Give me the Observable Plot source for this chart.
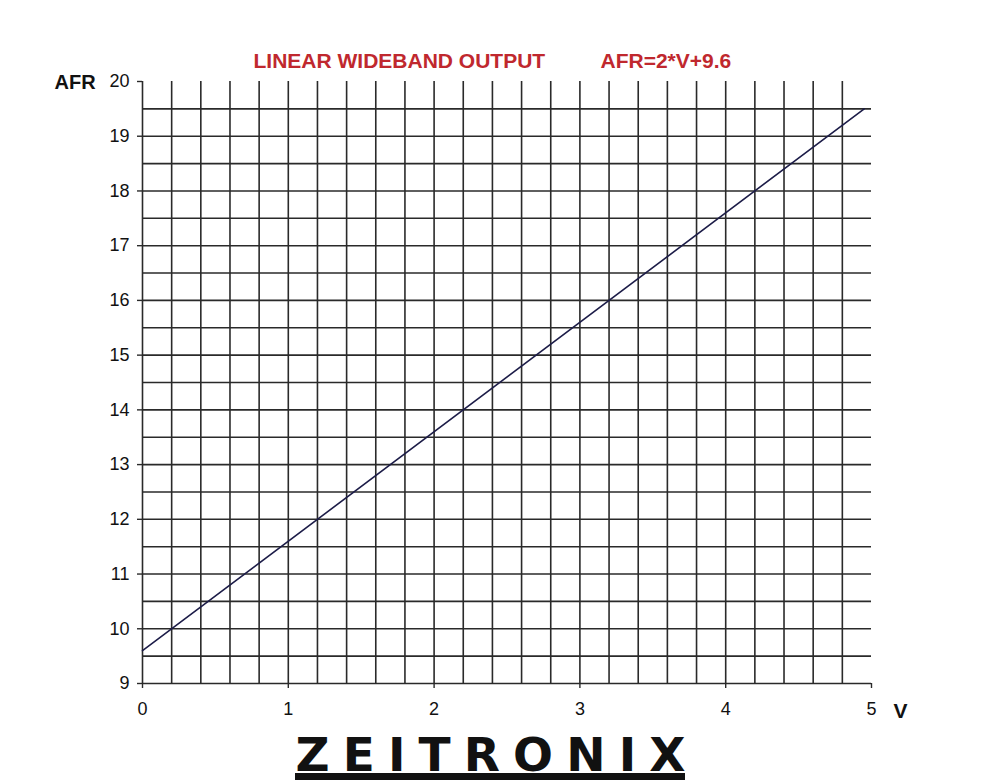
<!DOCTYPE html>
<html><head><meta charset="utf-8">
<script src="https://cdn.jsdelivr.net/npm/d3@7"></script>
<script src="https://cdn.jsdelivr.net/npm/@observablehq/plot@0.6"></script>
<style>body{margin:0;background:#fff} svg{display:block}</style>
</head><body><div id="chart"></div>
<script>
// Data
const voltage = [0, 4.95];
const afr = [9.6, 19.5];
const xTicks = [0, 1, 2, 3, 4, 5];
const yTicks = [9, 10, 11, 12, 13, 14, 15, 16, 17, 18, 19, 20];
const xGrid = [0.2, 0.4, 0.6, 0.8, 1.0, 1.2, 1.4, 1.6, 1.8, 2.0, 2.2, 2.4, 2.6, 2.8, 3.0, 3.2, 3.4, 3.6, 3.8, 4.0, 4.2, 4.4, 4.6, 4.8];
const yGrid = [9.5, 10, 10.5, 11, 11.5, 12, 12.5, 13, 13.5, 14, 14.5, 15, 15.5, 16, 16.5, 17, 17.5, 18, 18.5, 19, 19.5];
const titleText = "LINEAR WIDEBAND OUTPUT";
const formulaText = "AFR=2*V+9.6";
const yLabel = "AFR";
const xLabel = "V";
const logoText = "ZEITRONIX";

const lineData = voltage.map((v, i) => ({v, afr: afr[i]}));
const font = "'Liberation Sans', Arial, sans-serif";
const gridColor = "#2a2a2a";
const red = "#c0282e";

const chart = Plot.plot({
  width: 985,
  height: 781,
  marginLeft: 142,
  marginRight: 114,
  marginTop: 81,
  marginBottom: 98,
  style: {fontFamily: font, background: "#fff", overflow: "visible"},
  x: {domain: [0, 5]},
  y: {domain: [9, 20]},
  marks: [
    Plot.ruleX(xGrid, {y1: 9, y2: 20, stroke: gridColor, strokeWidth: 1.6}),
    Plot.ruleY(yGrid, {x1: 0, x2: 5, stroke: gridColor, strokeWidth: 1.6}),
    Plot.ruleX([0], {y1: 9, y2: 20, stroke: gridColor, strokeWidth: 1.6}),
    Plot.ruleY([9], {x1: 0, x2: 5, stroke: gridColor, strokeWidth: 1.6}),
    Plot.axisY({ticks: yTicks, tickFormat: d3.format("d"), tickSize: 5, tickPadding: 8, fontSize: 18, label: null, stroke: gridColor, strokeWidth: 1.4, fill: "#111"}),
    Plot.axisX({ticks: xTicks, tickFormat: d3.format("d"), tickSize: 5, tickPadding: 14, fontSize: 18, label: null, stroke: gridColor, strokeWidth: 1.4, fill: "#111"}),
    Plot.line(lineData, {x: "v", y: "afr", stroke: "#1c1c48", strokeWidth: 1.6}),
    Plot.text([yLabel], {frameAnchor: "top-left", lineAnchor: "bottom", dx: -88, dy: 7, text: d => d, textAnchor: "start", fontSize: 20, fontWeight: "bold", fill: "#111"}),
    Plot.text([xLabel], {frameAnchor: "bottom-right", lineAnchor: "bottom", dx: 22, dy: 34, text: d => d, textAnchor: "start", fontSize: 21, fontWeight: "bold", fill: "#111"}),
    Plot.text([titleText], {frameAnchor: "top-left", lineAnchor: "bottom", dx: 111, dy: -14, text: d => d, textAnchor: "start", fontSize: 21, fontWeight: "bold", fill: red}),
    Plot.text([formulaText], {frameAnchor: "top-left", lineAnchor: "bottom", dx: 458, dy: -14, text: d => d, textAnchor: "start", fontSize: 21, fontWeight: "bold", fill: red}),
    Plot.text([logoText], {frameAnchor: "bottom-left", lineAnchor: "bottom", dx: 153, dy: 87, text: d => d, textAnchor: "start", fontSize: 47, fontWeight: "bold", fill: "#111", fontFamily: "'DejaVu Sans', sans-serif", className: "logo"})
  ]
});

const svg = d3.select(chart);
svg.select(".logo text").attr("textLength", 390).attr("lengthAdjust", "spacing");
svg.append("rect").attr("x", 295).attr("y", 773).attr("width", 390).attr("height", 7).attr("fill", "#111");
document.getElementById("chart").appendChild(chart);
</script>
</body></html>
